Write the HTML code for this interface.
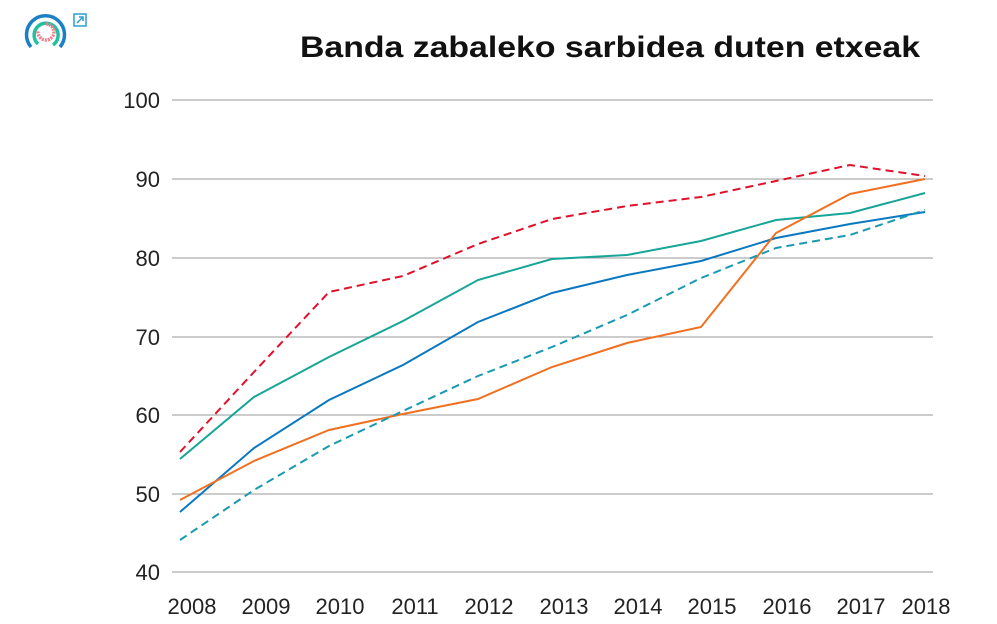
<!DOCTYPE html>
<html><head><style>body{margin:0;background:#fff}svg{display:block}</style></head><body>
<svg width="997" height="624" xmlns="http://www.w3.org/2000/svg" font-family="Liberation Sans, sans-serif">
<rect width="997" height="624" fill="#fff"/>
<g fill="none" stroke-width="3.5">
<path d="M31 47 A19 19 0 1 1 60 47" stroke="#1a7fc4"/>
<path d="M38 44 A12 12 0 1 1 53 45" stroke="#20c0a0"/>
<path d="M46 24 A8 8 0 1 1 38 31" stroke="#f08090" stroke-dasharray="2 1"/>
</g>
<rect x="74" y="14" width="12" height="12" fill="none" stroke="#2aa0d0" stroke-width="1.5"/>
<path d="M77 23 L83 17 M79 17 H83 V21" stroke="#2aa0d0" stroke-width="1.5" fill="none"/>
<text x="300" y="57" textLength="620" lengthAdjust="spacingAndGlyphs" font-size="30" font-weight="bold" fill="#111">Banda zabaleko sarbidea duten etxeak</text>
<g stroke="#999" stroke-width="1">
<line x1="172" y1="100" x2="933" y2="100"/><line x1="172" y1="179" x2="933" y2="179"/>
<line x1="172" y1="258" x2="933" y2="258"/><line x1="172" y1="337" x2="933" y2="337"/>
<line x1="172" y1="415" x2="933" y2="415"/><line x1="172" y1="494" x2="933" y2="494"/>
<line x1="172" y1="572" x2="933" y2="572"/>
</g>
<g font-size="22" fill="#222" text-anchor="end">
<text x="160" y="108">100</text><text x="160" y="187">90</text><text x="160" y="266">80</text>
<text x="160" y="345">70</text><text x="160" y="423">60</text><text x="160" y="502">50</text><text x="160" y="580">40</text>
</g>
<g font-size="22" fill="#222" text-anchor="middle">
<text x="192" y="614">2008</text><text x="266" y="614">2009</text><text x="340" y="614">2010</text><text x="415" y="614">2011</text>
<text x="489" y="614">2012</text><text x="564" y="614">2013</text><text x="638" y="614">2014</text><text x="712" y="614">2015</text>
<text x="787" y="614">2016</text><text x="861" y="614">2017</text><text x="926" y="614">2018</text>
</g>
<g fill="none" stroke-width="2">
<polyline stroke="#e0102a" stroke-dasharray="8 5" points="180,452 254,372 329,292 403,276 478,244 552,219 627,206 701,197 776,181 850,165 925,176"/>
<polyline stroke="#16a596" points="180,459 254,397 329,357 403,321 478,280 552,259 627,255 701,241 776,220 850,213 925,193"/>
<polyline stroke="#0a78c0" points="180,512 254,448 329,400 403,365 478,322 552,293 627,275 701,261 776,238 850,224 925,212"/>
<polyline stroke="#f07020" points="180,500 254,461 329,430 403,414 478,399 552,367 627,343 701,327 776,233 850,194 925,179"/>
<polyline stroke="#1a9ab0" stroke-dasharray="8 5" points="180,540 254,490 329,446 403,411 478,376 552,347 627,315 701,278 776,248 850,235 925,210"/>
</g>
</svg>
</body></html>
